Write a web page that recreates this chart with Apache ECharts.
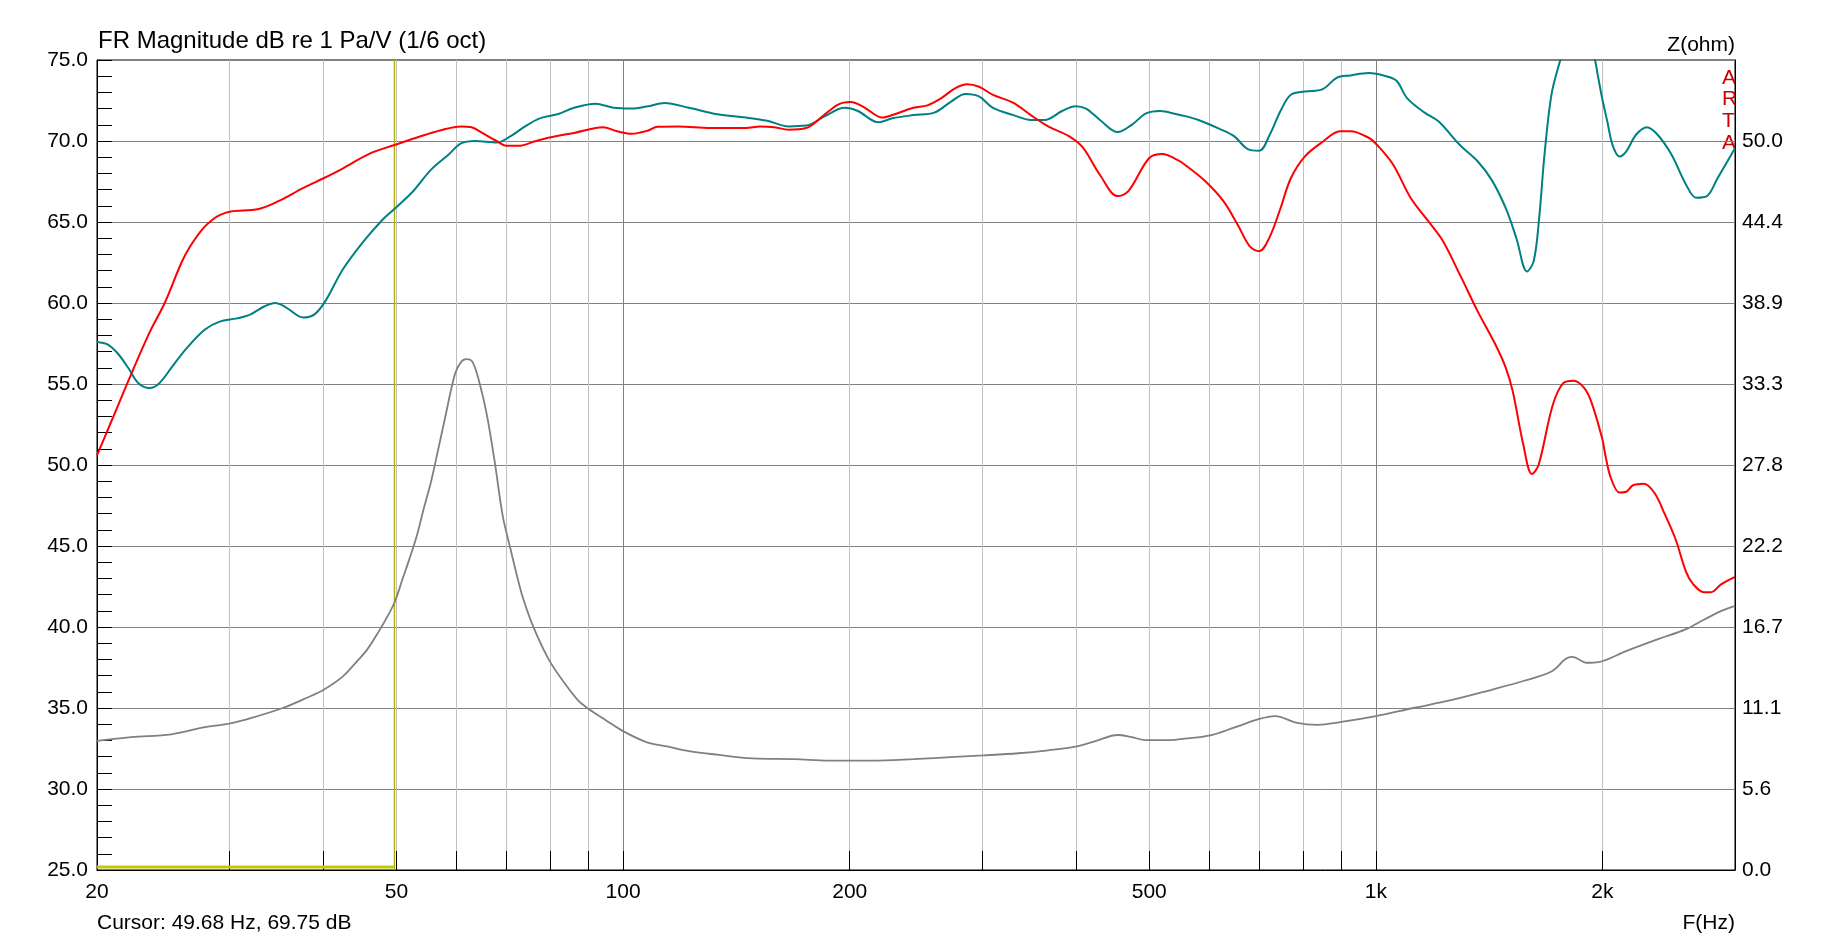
<!DOCTYPE html>
<html>
<head>
<meta charset="utf-8">
<title>FR Magnitude</title>
<script src="https://cdn.jsdelivr.net/npm/echarts@6/dist/echarts.min.js"></script>
<style>
  html, body { margin: 0; padding: 0; background: #fff; }
  #chart { width: 1833px; height: 942px; }
</style>
</head>
<body>
<div id="chart"></div>
<script>
// red trace: SPL, dB re 1 Pa/V
const redFreq = [20, 20.9, 22.2, 23.5, 24.6, 25.9, 26.6, 27.6, 28.5, 29.2, 30.1, 32.8, 34.9, 37.6, 40, 42.4, 46.2, 49.7,
  53.5, 57.1, 60.9, 62.9, 65, 67.9, 70.2, 72.6, 76.6, 80.5, 86.1, 91.9, 94, 98.2, 102.6, 108, 111, 118.4, 130.6,
  145.6, 152, 158.9, 165.9, 175, 184.9, 193, 200.6, 209.5, 220.8, 227.8, 243, 253.7, 264.7, 276, 286.6, 297, 310,
  330, 348, 367, 391, 408, 430, 454, 469, 500, 521, 544, 557, 594, 627, 655, 680, 700, 723, 747, 771, 805, 850,
  896, 925, 978, 1004, 1054, 1112, 1174, 1225, 1293, 1365, 1441, 1488, 1520, 1570, 1612, 1645, 1718, 1774, 1832,
  1892, 1933, 1998, 2020, 2052, 2107, 2150, 2196, 2268, 2343, 2421, 2502, 2583, 2639, 2727, 2787, 2878, 3000];
const redDb = [50.6, 52.7, 55.6, 58.2, 60.0, 62.5, 63.5, 64.55, 65.15, 65.45, 65.65, 65.8, 66.3, 67.1, 67.7, 68.3, 69.25, 69.75,
  70.25, 70.65, 70.9, 70.85, 70.5, 70.0, 69.7, 69.7, 70.0, 70.25, 70.5, 70.8, 70.85, 70.6, 70.45, 70.65, 70.88, 70.9, 70.8,
  70.8, 70.9, 70.85, 70.7, 70.8, 71.6, 72.25, 72.4, 72.05, 71.45, 71.6, 72.05, 72.2, 72.65, 73.25, 73.5, 73.35, 72.85,
  72.35, 71.6, 70.9, 70.3, 69.6, 67.9, 66.6, 66.9, 68.95, 69.2, 68.85, 68.55, 67.5, 66.3, 64.85, 63.5, 63.2, 64.1, 65.85, 67.7, 69.05, 69.95,
  70.6, 70.6, 70.2, 69.75, 68.55, 66.5, 65.05, 63.9, 61.75, 59.5, 57.45, 56.0, 54.55, 51.25, 49.45, 50.0, 53.7, 55.05, 55.2,
  54.75, 53.9, 51.65, 50.5, 49.2, 48.3, 48.35, 48.75, 48.85, 48.3, 46.95, 45.4, 43.4, 42.65, 42.15, 42.15, 42.65, 43.1];

// teal trace: SPL, dB re 1 Pa/V
const tealFreq = [20, 20.65, 21.3, 22, 22.7, 23.5, 24.2, 25.2, 26.3, 27.8, 29.1, 30.7, 32, 33.4, 34.5, 35.6, 37.6, 38.9,
  40.2, 42.4, 45.2, 47.7, 49.8, 52.6, 55.5, 58.6, 60.9, 63.6, 67.9, 70.9, 74.1, 77.5, 81.8, 86.1, 91.9, 97.1, 102.6,
  108, 113.5, 122.3, 133.4, 145.6, 155.4, 165.9, 175, 184.9, 197, 205, 218.5, 227.8, 243, 259, 273, 285, 297, 310,
  330, 348, 363, 383, 399, 412, 430, 454, 474, 495, 517, 544, 557, 581, 620, 648, 676, 700, 723, 747, 771, 805, 850,
  887, 925, 978, 1032, 1066, 1100, 1161, 1212, 1293, 1365, 1425, 1488, 1537, 1588, 1621, 1648, 1675, 1711, 1758,
  1800, 1850, 1910, 1955, 1971, 1998, 2030, 2063, 2107, 2150, 2218, 2291, 2366, 2471, 2583, 2665, 2753, 2844, 3000];
const tealDb = [57.6, 57.45, 56.9, 56.0, 55.05, 54.75, 55.05, 56.1, 57.2, 58.35, 58.85, 59.05, 59.3, 59.8, 60.0, 59.75, 59.1, 59.3,
  60.1, 62.05, 63.8, 65.05, 65.85, 66.9, 68.2, 69.15, 69.85, 70.0, 69.9, 70.3, 70.9, 71.4, 71.65, 72.05, 72.3, 72.05, 72.0,
  72.15, 72.35, 72.05, 71.65, 71.45, 71.25, 70.9, 70.95, 71.5, 72.05, 71.85, 71.15, 71.4, 71.6, 71.75, 72.45, 72.9, 72.75, 72.05,
  71.6, 71.3, 71.3, 71.85, 72.15, 72.0, 71.3, 70.55, 71.0, 71.7, 71.85, 71.65, 71.55, 71.3, 70.75, 70.3, 69.5, 69.4, 70.4, 71.85, 72.85, 73.05, 73.2,
  73.9, 74.05, 74.2, 74.0, 73.7, 72.65, 71.75, 71.2, 69.75, 68.75, 67.6, 65.85, 64.0, 61.95, 62.6, 65.25, 69.15, 72.85, 75.0,
  76.6, 77.1, 76.6, 75.0, 74.1, 72.65, 71.2, 69.75, 69.05, 69.35, 70.4, 70.85, 70.4, 69.15, 67.3, 66.5, 66.6, 67.7, 69.55];

// grey trace: impedance, ohm (right axis)
const zFreq = [20, 22.2, 25.1, 27.6, 30.1, 32, 35.3, 38, 40, 42.4, 44.3, 45.7, 47.3, 48.9, 49.8, 50.9, 52, 53.2, 54.3,
  55.5, 56.4, 57.9, 59.8, 60.9, 61.9, 63.1, 64.5, 65.9, 67.5, 69.2, 70.7, 72.2, 73.7, 76.2, 79.7, 83.2, 87.2, 89.9,
  94.9, 100.1, 107.6, 114.8, 122.3, 133.4, 148.6, 168.8, 187.8, 213.7, 243, 276, 301, 335, 367, 399, 425, 454, 474,
  495, 534, 557, 600, 648, 700, 735, 783, 836, 900, 1000, 1122, 1263, 1425, 1570, 1711, 1786, 1824, 1905, 1977,
  2150, 2366, 2583, 2727, 2878, 3000];
const zOhm = [8.85, 9.1, 9.3, 9.75, 10.05, 10.4, 11.1, 11.8, 12.35, 13.25, 14.3, 15.1, 16.3, 17.6, 18.45, 19.9, 21.3, 22.9, 24.7,
  26.5, 28.1, 30.8, 34.0, 34.8, 35.0, 34.8, 33.3, 31.2, 28.0, 24.25, 22.2, 20.25, 18.55, 16.5, 14.4, 12.95, 11.6, 11.05,
  10.25, 9.5, 8.75, 8.45, 8.15, 7.9, 7.65, 7.6, 7.5, 7.5, 7.6, 7.75, 7.85, 8.0, 8.2, 8.45, 8.85, 9.25, 9.1,
  8.9, 8.9, 9.0, 9.2, 9.75, 10.35, 10.55, 10.1, 9.95, 10.15, 10.55, 11.1, 11.65, 12.35, 12.95, 13.6, 14.45, 14.6, 14.2, 14.25,
  15.0, 15.8, 16.5, 17.15, 17.75, 18.1];

// cursor
const cursorFreq = 49.68;
const cursorText = 'Cursor: 49.68 Hz, 69.75 dB';

// axes
const freqGrid = [30, 40, 50, 60, 70, 80, 90, 100, 200, 300, 400, 500, 600, 700, 800, 900, 1000, 2000];
const freqLabelValues = [20, 50, 100, 200, 500, 1000, 2000];
const freqLabelText = ['20', '50', '100', '200', '500', '1k', '2k'];
const zLabels = ['0.0', '5.6', '11.1', '16.7', '22.2', '27.8', '33.3', '38.9', '44.4', '50.0', ''];

const FONT = '"Liberation Sans", Arial, sans-serif';
const zip = (xs, ys) => xs.map((x, i) => [x, ys[i]]);

const chart = echarts.init(document.getElementById('chart'));

const option = {
  animation: false,
  backgroundColor: '#fff',
  textStyle: { fontFamily: FONT },
  grid: {
    left: 97, top: 60, right: 98, bottom: 72,
    show: true, borderColor: '#000', borderWidth: 1, backgroundColor: '#fff',
  },
  xAxis: {
    type: 'log',
    logBase: 10,
    min: 20,
    max: 3000,
    axisLine: { show: true, onZero: false, lineStyle: { color: '#000', width: 1 } },
    axisTick: {
      show: true, inside: true, length: 19,
      customValues: freqGrid,
      lineStyle: { color: '#000', width: 1 },
    },
    axisLabel: {
      customValues: freqLabelValues,
      formatter: (v) => {
        const i = freqLabelValues.findIndex(f => Math.abs(f - v) < 1e-6 * f);
        return i >= 0 ? freqLabelText[i] : '';
      },
      color: '#000', fontSize: 21, fontFamily: FONT, margin: 12,
    },
    splitLine: {
      show: true,
      lineStyle: {
        width: 1,
        color: freqGrid.map(f => (f === 100 || f === 1000 ? '#808080' : '#c0c0c0')),
      },
    },
    minorSplitLine: { show: false },
  },
  yAxis: [
    {
      type: 'value',
      min: 25, max: 75, interval: 5,
      position: 'left',
      axisLine: { show: true, lineStyle: { color: '#000' } },
      axisTick: { show: true, inside: true, length: 15, lineStyle: { color: '#000' } },
      minorTick: { show: true, splitNumber: 5, length: 15, lineStyle: { color: '#000' } },
      axisLabel: { formatter: v => v.toFixed(1), color: '#000', fontSize: 21, fontFamily: FONT, margin: 9 },
      splitLine: { show: true, lineStyle: { color: '#808080', width: 1 } },
    },
    {
      type: 'value',
      min: 0, max: 55.5, interval: 5.55,
      position: 'right',
      axisLine: { show: true, lineStyle: { color: '#000' } },
      axisTick: { show: false },
      axisLabel: {
        formatter: v => zLabels[Math.round(v / 5.55)] || '',
        color: '#000', fontSize: 21, fontFamily: FONT, margin: 7,
      },
      splitLine: { show: false },
    },
  ],
  series: [
    {
      name: 'cursor',
      type: 'line',
      data: [[cursorFreq, 25], [cursorFreq, 75]],
      showSymbol: false,
      silent: true,
      lineStyle: { color: '#b0b000', width: 1.4 },
    },
    {
      name: 'cursor span',
      type: 'line',
      data: [[20, 25.18], [cursorFreq, 25.18]],
      showSymbol: false,
      silent: true,
      lineStyle: { color: '#c8c800', width: 3 },
    },
    {
      name: 'Z',
      type: 'line',
      yAxisIndex: 1,
      data: zip(zFreq, zOhm),
      showSymbol: false,
      smooth: 0.35,
      lineStyle: { color: '#808080', width: 1.8 },
    },
    {
      name: 'SPL 2',
      type: 'line',
      data: zip(tealFreq, tealDb),
      showSymbol: false,
      smooth: 0.35,
      clip: true,
      lineStyle: { color: '#008080', width: 2 },
    },
    {
      name: 'SPL 1',
      type: 'line',
      data: zip(redFreq, redDb),
      showSymbol: false,
      smooth: 0.35,
      lineStyle: { color: '#ff0000', width: 2 },
    },
  ],
  graphic: [
    {
      type: 'text', left: 98, top: 29,
      style: { text: 'FR Magnitude dB re 1 Pa/V (1/6 oct)', fill: '#000', font: '24px ' + FONT },
    },
    {
      type: 'text', right: 98, top: 35,
      style: { text: 'Z(ohm)', fill: '#000', font: '21px ' + FONT },
    },
    {
      type: 'text', left: 1722, top: 67,
      style: { text: 'A\nR\nT\nA', fill: '#cc0000', font: '21px ' + FONT, lineHeight: 21.7, align: 'center' },
    },
    {
      type: 'text', left: 97, top: 913,
      style: { text: cursorText, fill: '#000', font: '21px ' + FONT },
    },
    {
      type: 'text', right: 98, top: 913,
      style: { text: 'F(Hz)', fill: '#000', font: '21px ' + FONT },
    },
  ],
};

chart.setOption(option);
</script>
</body>
</html>
